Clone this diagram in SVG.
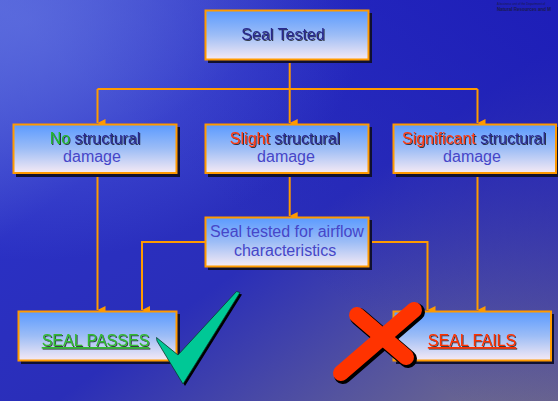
<svg xmlns="http://www.w3.org/2000/svg" width="558" height="401" viewBox="0 0 558 401">
<defs>
<linearGradient id="bg" x1="0" y1="0" x2="1" y2="1">
<stop offset="0" stop-color="#4F60D8"/>
<stop offset="0.3" stop-color="#2A30C4"/>
<stop offset="0.55" stop-color="#2A2EB8"/>
<stop offset="0.8" stop-color="#55549E"/>
<stop offset="1" stop-color="#767088"/>
</linearGradient>
<radialGradient id="hl" cx="0.05" cy="0.05" r="0.6">
<stop offset="0" stop-color="#6070E0" stop-opacity="0.7"/>
<stop offset="1" stop-color="#6070E0" stop-opacity="0"/>
</radialGradient>
<linearGradient id="tr" x1="1" y1="0" x2="0.4" y2="0.5">
<stop offset="0" stop-color="#1C1CB8" stop-opacity="0.9"/>
<stop offset="1" stop-color="#1C1CB8" stop-opacity="0"/>
</linearGradient>
<linearGradient id="box" x1="0" y1="0" x2="0" y2="1">
<stop offset="0" stop-color="#5A9AFF"/>
<stop offset="0.5" stop-color="#9DBDF6"/>
<stop offset="1" stop-color="#F6EAF4"/>
</linearGradient>
<filter id="ts" x="-10%" y="-20%" width="120%" height="150%">
<feDropShadow dx="1" dy="1" stdDeviation="0.3" flood-color="#000" flood-opacity="0.7"/>
</filter>
<marker id="ah" viewBox="0 0 8 8" refX="4" refY="8" markerWidth="8" markerHeight="8" markerUnits="userSpaceOnUse" orient="auto-start-reverse">
<path d="M0,0 L8,0 L4,8 Z" fill="#FF9A00"/>
</marker>
</defs>
<style>
.shadow{fill:#101030}
.bx{fill:url(#box);stroke:#FF9A00;stroke-width:2}
.t{font-family:"Liberation Sans",Arial,sans-serif;font-size:16px;text-anchor:middle}
.navy{fill:#2A2A8E}
.mid{fill:#4646C8}
.conn{fill:none;stroke:#FF9A00;stroke-width:2}
</style>
<rect width="558" height="401" fill="url(#bg)"/>
<rect width="558" height="401" fill="url(#tr)"/>
<rect width="558" height="401" fill="url(#hl)"/>
<g id="logo" font-family="'Liberation Sans',Arial,sans-serif" fill="#1A1A50">
<text x="497" y="5" font-size="3">A business unit of the Department of</text>
<text x="497" y="11" font-size="4.5" font-weight="bold">Natural Resources and M</text>
</g>
<g id="connectors">
<path class="conn" d="M289.7,61 V89"/>
<path class="conn" d="M97.5,89 H477.5"/>
<path class="conn" d="M97.5,89 V123" marker-end="url(#ah)"/>
<path class="conn" d="M289.7,89 V123" marker-end="url(#ah)"/>
<path class="conn" d="M477.5,89 V123" marker-end="url(#ah)"/>
<path class="conn" d="M97.5,174 V310" marker-end="url(#ah)"/>
<path class="conn" d="M289.7,174 V216" marker-end="url(#ah)"/>
<path class="conn" d="M205,242 H142 V310" marker-end="url(#ah)"/>
<path class="conn" d="M369,242 H427.5 V310" marker-end="url(#ah)"/>
<path class="conn" d="M477.5,174 V310" marker-end="url(#ah)"/>
</g>
<g id="n-seal-tested">
<rect class="shadow" x="208" y="13" width="164" height="50"/>
<rect class="bx" x="205.5" y="10.5" width="163" height="49"/>
<text class="t navy" x="283" y="39.5" filter="url(#ts)">Seal Tested</text>
</g>
<g id="n-no-damage">
<rect class="shadow" x="16" y="127" width="164" height="50"/>
<rect class="bx" x="13.5" y="124.5" width="163" height="48.5"/>
<text class="t" x="95" y="143.5" filter="url(#ts)"><tspan fill="#22B830">No</tspan><tspan class="navy"> structural</tspan></text>
<text class="t mid" x="92" y="162">damage</text>
</g>
<g id="n-slight-damage">
<rect class="shadow" x="208" y="127" width="164" height="50"/>
<rect class="bx" x="205.5" y="124.5" width="163" height="48.5"/>
<text class="t" x="285" y="143.5" filter="url(#ts)"><tspan fill="#FF3A10">Slight</tspan><tspan class="navy"> structural</tspan></text>
<text class="t mid" x="286" y="162">damage</text>
</g>
<g id="n-significant-damage">
<rect class="shadow" x="396" y="127" width="164" height="50"/>
<rect class="bx" x="393.5" y="124.5" width="162.5" height="48.5"/>
<text class="t" x="474" y="143.5" filter="url(#ts)"><tspan fill="#FF3A10">Significant</tspan><tspan class="navy"> structural</tspan></text>
<text class="t mid" x="472" y="162">damage</text>
</g>
<g id="n-airflow">
<rect class="shadow" x="208" y="220" width="164" height="50"/>
<rect class="bx" x="205.5" y="217.5" width="163" height="49"/>
<text class="t mid" x="287" y="236.5">Seal tested for airflow</text>
<text class="t mid" x="285" y="255.5">characteristics</text>
</g>
<g id="n-seal-passes">
<rect class="shadow" x="21" y="314" width="159" height="50"/>
<rect class="bx" x="18.5" y="311.5" width="158" height="49"/>
<text class="t" x="95.5" y="346" fill="#33BB33" text-decoration="underline" filter="url(#ts)">SEAL PASSES</text>
<path d="M156.5,337.5 L178,355 L236.5,291.5 L240,292.5 L183,384 L157,341 Z" fill="#000" transform="translate(2,2)"/>
<path d="M156.5,337.5 L178,355 L236.5,291.5 L240,292.5 L183,384 L157,341 Z" fill="#00C896" stroke="#0A3A30" stroke-width="0.8"/>
</g>
<g id="n-seal-fails">
<rect class="shadow" x="396" y="314" width="158" height="50"/>
<rect class="bx" x="393.5" y="311.5" width="157.5" height="49"/>
<text class="t" x="472" y="346" fill="#FF3300" text-decoration="underline" filter="url(#ts)">SEAL FAILS</text>
<g stroke-linecap="round" fill="none">
<path d="M357,315 L406,357" stroke="#000" stroke-width="18" transform="translate(2,2)"/>
<path d="M414,310 L341,373" stroke="#000" stroke-width="18" transform="translate(2,2)"/>
<path d="M357,315 L406,357" stroke="#FF3300" stroke-width="16"/>
<path d="M414,310 L341,373" stroke="#FF3300" stroke-width="16"/>
</g>
</g>
</svg>
